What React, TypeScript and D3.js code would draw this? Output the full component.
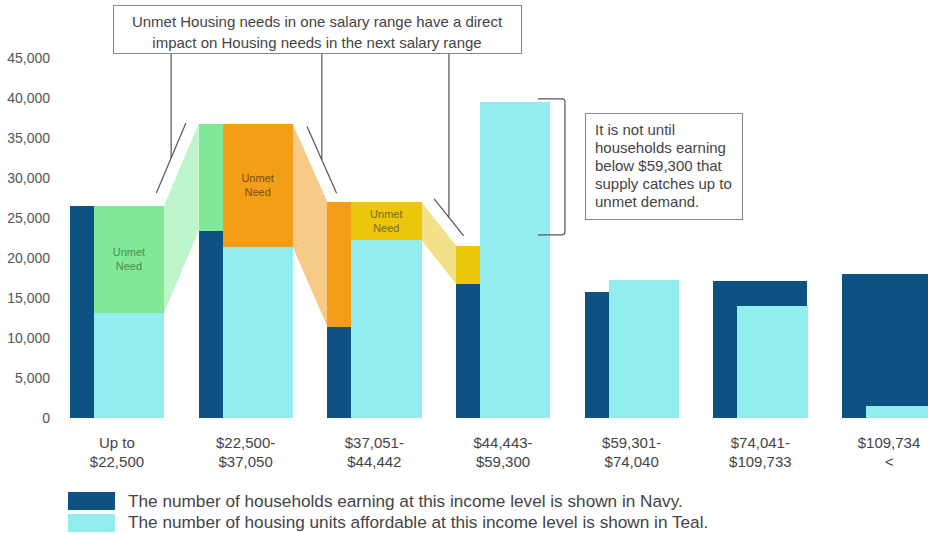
import * as d3 from 'd3';

const categories = [
  ['Up to', '$22,500'],
  ['$22,500-', '$37,050'],
  ['$37,051-', '$44,442'],
  ['$44,443-', '$59,300'],
  ['$59,301-', '$74,040'],
  ['$74,041-', '$109,733'],
  ['$109,734', '<'],
];
// households earning at this income level (navy)
const households = [26500, 23400, 11400, 16750, 15750, 17150, 18000];
// housing units affordable at this income level (teal)
const affordable = [13100, 21400, 22250, 39500, 17250, 14000, 1500];
// unmet need pushed down from the previous salary range
const carriedNeed = [0, 13400, 15600, 4800, 0, 0, 0];

const unmetColors = ['#80e896', '#f29e17', '#ebc60c'];
const bandColors = ['#bff5cb', '#f7ca88', '#f3e18a'];
const unmetText = ['#4d8a57', '#7a4d14', '#7a6a14'];

const yTicks = [0, 5000, 10000, 15000, 20000, 25000, 30000, 35000, 40000, 45000];

const NAVY = '#0d5282';
const TEAL = '#92eded';
const FONT = '"Liberation Sans", Arial, sans-serif';

export default function App() {
  const width = 928;
  const height = 533;

  const x = d3
    .scaleBand<number>()
    .domain(d3.range(categories.length))
    .range([70, 936])
    .paddingInner(0.27)
    .paddingOuter(0);
  const bw = x.bandwidth();
  const navyW = bw * 0.255;

  const y = d3.scaleLinear().domain([0, 45000]).range([418, 58]);
  const fmt = d3.format(',');

  const left = (i: number) => x(i) as number;
  const right = (i: number) => left(i) + bw;
  const need = (i: number) => households[i] + carriedNeed[i];

  // bands between an unmet block and the carried block in the next range
  const bands = [0, 1, 2].map((i) => {
    const pts: [number, number][] = [
      [right(i), y(need(i))],
      [left(i + 1), y(need(i + 1))],
      [left(i + 1), y(households[i + 1])],
      [right(i), y(affordable[i])],
    ];
    // annotation tick line, parallel to the band's top edge, offset upwards
    const [p, q] = pts;
    const dx = q[0] - p[0];
    const dy = q[1] - p[1];
    const len = Math.hypot(dx, dy);
    const ux = dx / len;
    const uy = dy / len;
    const nx = uy;
    const ny = -ux;
    const off = 12;
    const a: [number, number] = [p[0] + ux * len * 0.1 + nx * off, p[1] + uy * len * 0.1 + ny * off];
    const b: [number, number] = [p[0] + ux * len * 0.95 + nx * off, p[1] + uy * len * 0.95 + ny * off];
    return { i, pts, a, b };
  });

  const bracketX0 = right(3) - 12;
  const bracketX1 = right(3) + 15;
  const bTop = y(39900);
  const bBot = y(22900);

  return (
    <svg
      width={width}
      height={height}
      style={{ position: 'absolute', left: 0, top: 0, background: '#fff' }}
      fontFamily={FONT}
    >
      {/* y axis labels */}
      {yTicks.map((t) => (
        <text key={t} x={50} y={y(t)} dy="0.35em" textAnchor="end" fontSize={14} fill="#555">
          {fmt(t)}
        </text>
      ))}

      <g shapeRendering="crispEdges">
        {/* navy: households, full group width behind teal */}
        {households.map((v, i) => (
          <rect key={'n' + i} x={left(i)} y={y(v)} width={bw} height={y(0) - y(v)} fill={NAVY} />
        ))}
        {/* teal: affordable units */}
        {affordable.map((v, i) => (
          <rect key={'t' + i} x={left(i) + navyW} y={y(v)} width={bw - navyW + 0.5} height={y(0) - y(v)} fill={TEAL} />
        ))}
      </g>

      {/* connecting bands */}
      {bands.map((b) => (
        <polygon key={'b' + b.i} points={b.pts.map((p) => p.join(',')).join(' ')} fill={bandColors[b.i]} />
      ))}

      {/* carried need stacked on navy */}
      {carriedNeed.map((c, i) =>
        c > 0 ? (
          <rect
            key={'c' + i}
            x={left(i)}
            y={y(need(i))}
            width={navyW}
            height={y(households[i]) - y(need(i))}
            fill={unmetColors[i - 1]}
            shapeRendering="crispEdges"
          />
        ) : null
      )}

      {/* unmet need blocks */}
      {[0, 1, 2].map((i) => {
        const top = y(need(i));
        const bot = y(affordable[i]);
        const cx = left(i) + navyW + (bw - navyW) / 2;
        const cy = (top + bot) / 2;
        return (
          <g key={'u' + i}>
            <rect
              x={left(i) + navyW}
              y={top}
              width={bw - navyW + 0.5}
              height={bot - top}
              fill={unmetColors[i]}
              shapeRendering="crispEdges"
            />
            <text x={cx} y={cy - 7} dy="0.35em" textAnchor="middle" fontSize={11} fill={unmetText[i]}>
              Unmet
            </text>
            <text x={cx} y={cy + 7} dy="0.35em" textAnchor="middle" fontSize={11} fill={unmetText[i]}>
              Need
            </text>
          </g>
        );
      })}

      {/* x labels */}
      {categories.map((c, i) => (
        <text key={'x' + i} x={left(i) + bw / 2} textAnchor="middle" fontSize={15} fill="#444">
          <tspan x={left(i) + bw / 2} y={448}>{c[0]}</tspan>
          <tspan x={left(i) + bw / 2} y={467}>{c[1]}</tspan>
        </text>
      ))}

      {/* top annotation */}
      <rect x={113.5} y={5.5} width={408} height={48} fill="#fff" stroke="#888" strokeWidth={1} />
      <text x={317} y={27} textAnchor="middle" fontSize={15} fill="#444">
        Unmet Housing needs in one salary range have a direct
      </text>
      <text x={317} y={48} textAnchor="middle" fontSize={15} fill="#444">
        impact on Housing needs in the next salary range
      </text>
      {bands.map((b) => {
        const mx = (b.a[0] + b.b[0]) / 2;
        const my = (b.a[1] + b.b[1]) / 2;
        return (
          <g key={'a' + b.i} stroke="#555" strokeWidth={1.2} fill="none">
            <line x1={b.a[0]} y1={b.a[1]} x2={b.b[0]} y2={b.b[1]} />
            <line x1={mx} y1={54} x2={mx} y2={my} />
          </g>
        );
      })}

      {/* right annotation */}
      <path
        d={`M${bracketX0},${bTop} H${bracketX1 - 3} Q${bracketX1},${bTop} ${bracketX1},${bTop + 3} V${bBot - 3} Q${bracketX1},${bBot} ${bracketX1 - 3},${bBot} H${bracketX0}`}
        fill="none"
        stroke="#555"
        strokeWidth={1.2}
      />
      <rect x={585.5} y={113.5} width={157} height={106} fill="#fff" stroke="#888" strokeWidth={1} />
      {['It is not until', 'households earning', 'below $59,300 that', 'supply catches up to', 'unmet demand.'].map(
        (t, k) => (
          <text key={'r' + k} x={595} y={135 + k * 18} fontSize={15} fill="#444">
            {t}
          </text>
        )
      )}

      {/* legend */}
      <rect x={68} y={492} width={47} height={18} fill={NAVY} />
      <rect x={68} y={514} width={47} height={18} fill={TEAL} />
      <text x={128} y={507} fontSize={17.2} fill="#444">
        The number of households earning at this income level is shown in Navy.
      </text>
      <text x={128} y={528} fontSize={17.2} fill="#444">
        The number of housing units affordable at this income level is shown in Teal.
      </text>
    </svg>
  );
}
